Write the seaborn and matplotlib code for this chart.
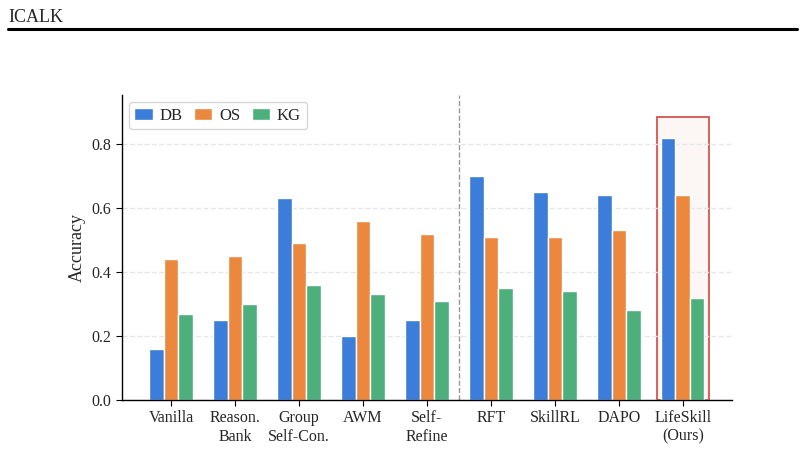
import pandas as pd
import seaborn as sns
import matplotlib.pyplot as plt
from matplotlib.patches import Rectangle
from matplotlib.lines import Line2D

methods = ["Vanilla", "Reason.\nBank", "Group\nSelf-Con.", "AWM", "Self-\nRefine",
           "RFT", "SkillRL", "DAPO", "LifeSkill\n(Ours)"]
db = [0.16, 0.25, 0.63, 0.20, 0.25, 0.70, 0.65, 0.64, 0.82]
os_ = [0.44, 0.45, 0.49, 0.56, 0.52, 0.51, 0.51, 0.53, 0.64]
kg = [0.27, 0.30, 0.36, 0.33, 0.31, 0.35, 0.34, 0.28, 0.32]
envs = ["DB", "OS", "KG"]
colors = ["#3b7dd8", "#eb883e", "#4daf7c"]

rows = []
for i, m in enumerate(methods):
    for env, vals in zip(envs, [db, os_, kg]):
        rows.append({"method": m, "env": env, "acc": vals[i]})
df = pd.DataFrame(rows)

sns.set_style("white")
plt.rcParams["font.family"] = ["Liberation Serif", "DejaVu Serif"]

fig = plt.figure(figsize=(8.04, 4.51), dpi=100)
ax = fig.add_axes([0.1517, 0.1131, 0.7587, 0.676])

# highlight box for our method
ax.add_patch(Rectangle((8 - 0.41, 0), 0.82, 0.885, facecolor="#fcf7f5",
                       edgecolor="#d9534f", lw=1.3, zorder=0.5))

sns.barplot(data=df, x="method", y="acc", hue="env", order=methods,
            hue_order=envs, palette=colors, width=0.68, edgecolor="white",
            linewidth=1.0, saturation=1, ax=ax, zorder=2)

ax.axvline(4.5, color="#999999", ls="--", lw=1, zorder=1)
ax.set_ylim(0, 0.953)
ax.set_xlim(-0.77, 8.77)
ax.set_yticks([0.0, 0.2, 0.4, 0.6, 0.8])
ax.yaxis.grid(True, ls="--", color="#e6e6e6", lw=1, zorder=0)
ax.set_axisbelow(True)
ax.set_xlabel("")
ax.set_ylabel("Accuracy", fontsize=13)
ax.tick_params(axis="both", labelsize=11.5, length=4, color="black", bottom=True, left=True)
sns.despine(ax=ax)
for s in ["left", "bottom"]:
    ax.spines[s].set_color("black")
    ax.spines[s].set_linewidth(1)

ax.legend(loc="upper left", ncol=3, fontsize=12, frameon=True, fancybox=True,
          handlelength=1.1, handleheight=0.7, columnspacing=0.7,
          handletextpad=0.4, borderaxespad=0.4, borderpad=0.35, edgecolor="#cccccc")

# page header
fig.text(0.01, 0.962, "ICALK", fontsize=13, ha="left", va="center")
fig.add_artist(Line2D([0.01, 0.991], [0.936, 0.936], color="black", lw=2.2))

fig.savefig("out.png", dpi=100)
